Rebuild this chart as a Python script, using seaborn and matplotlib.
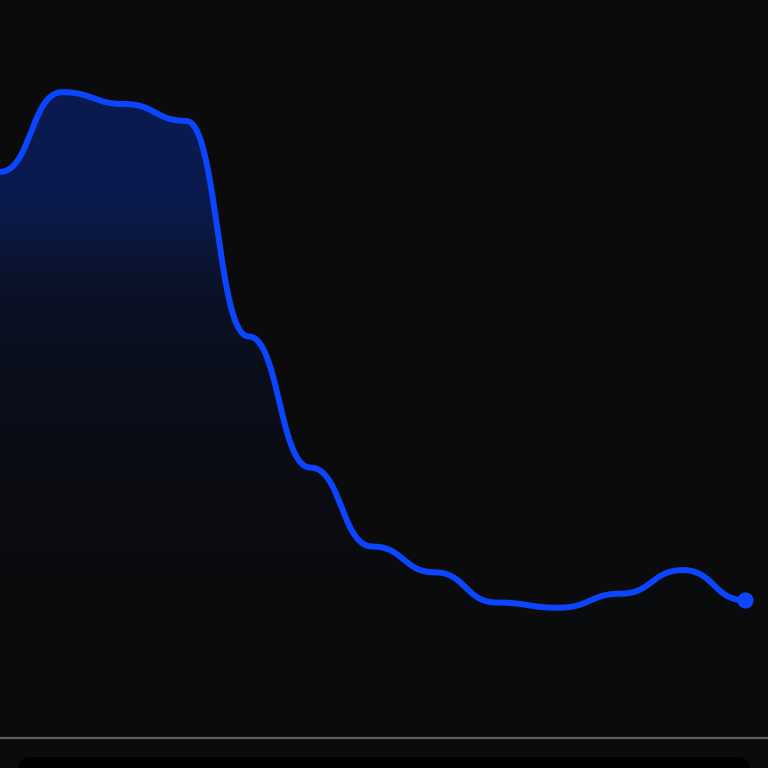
import numpy as np
import pandas as pd
import seaborn as sns
import matplotlib.pyplot as plt
from matplotlib.patches import FancyBboxPatch

# data (index of each step and its value, 0-100 scale)
steps = list(range(13))
values = [76.7, 87.5, 85.9, 83.6, 54.4, 36.6, 25.9, 22.4, 18.3, 17.6, 19.5, 22.7, 18.6]

BG = '#0b0b0b'
BLUE = '#0b45ff'

def bump_x(x, y, n=60):
    # horizontal-tangent bezier between each pair of points (like d3 curveBumpX)
    xs, ys = [x[0]], [y[0]]
    t = np.linspace(0, 1, n)[1:]
    for i in range(len(x) - 1):
        x0, x1, y0, y1 = x[i], x[i + 1], y[i], y[i + 1]
        xm = (x0 + x1) / 2
        bx = (1 - t)**3 * x0 + 3 * (1 - t)**2 * t * xm + 3 * (1 - t) * t**2 * xm + t**3 * x1
        by = (1 - t)**3 * y0 + 3 * (1 - t)**2 * t * y0 + 3 * (1 - t) * t**2 * y1 + t**3 * y1
        xs.extend(bx)
        ys.extend(by)
    return np.array(xs), np.array(ys)

xs, ys = bump_x(steps, values)
curve = pd.DataFrame({'x': xs, 'y': ys})

sns.set_theme(style='dark', rc={'figure.facecolor': BG, 'axes.facecolor': BG})
fig = plt.figure(figsize=(7.68, 7.68), dpi=100)
ax = fig.add_axes([0, 0.0397, 1, 0.9603])
xmax = steps[-1] * 768 / 745
ax.set_xlim(0, xmax)
ax.set_ylim(0, 100)

# gradient fill under the line
poly = ax.fill_between(curve['x'], curve['y'], 0, color='none', lw=0)
v = np.linspace(0, 100, 400)
alpha = np.interp(v, [0, 20, 35, 50, 62, 73, 100], [0.0, 0.01, 0.035, 0.07, 0.13, 0.28, 0.28])
grad = np.zeros((len(v), 1, 4))
grad[..., 0] = 10 / 255
grad[..., 1] = 68 / 255
grad[..., 2] = 1.0
grad[..., 3] = alpha[:, None]
im = ax.imshow(grad, extent=[0, xmax, 0, 100], aspect='auto', origin='lower',
               zorder=1, interpolation='bilinear')
im.set_clip_path(poly.get_paths()[0], transform=ax.transData)

sns.lineplot(data=curve, x='x', y='y', estimator=None, sort=False, ax=ax,
             color=BLUE, linewidth=4.3, zorder=3, solid_capstyle='round')
sns.scatterplot(x=[steps[-1]], y=[values[-1]], ax=ax, s=135, color=BLUE,
                linewidth=0, zorder=4)

ax.set_xticks([])
ax.set_yticks([])
ax.set_xlabel('')
ax.set_ylabel('')
ax.grid(False)
for side in ['top', 'left', 'right']:
    ax.spines[side].set_visible(False)
ax.spines['bottom'].set_color('#5e5e5e')
ax.spines['bottom'].set_linewidth(1.6)

# dark rounded panel peeking in at the bottom
fig.patches.append(FancyBboxPatch((17 / 768, -0.05), 734 / 768, 0.064,
                                  boxstyle='round,pad=0,rounding_size=0.02',
                                  transform=fig.transFigure, facecolor='#000000',
                                  edgecolor='none'))

fig.savefig('out.png', dpi=100, facecolor=BG)
